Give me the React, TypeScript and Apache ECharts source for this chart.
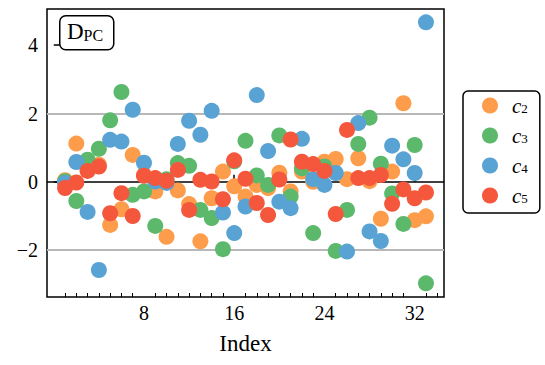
import React, { useEffect, useRef } from "react";
import * as echarts from "echarts";

const indices = [1, 2, 3, 4, 5, 6, 7, 8, 9, 10, 11, 12, 13, 14, 15, 16, 17, 18, 19, 20, 21, 22, 23, 24, 25, 26, 27, 28, 29, 30, 31, 32, 33];

const c2 = [0.05, 1.12, 0.35, 0.5, -1.26, -0.8, 0.79, 0.2, -0.28, -1.61, -0.25, -0.65, -1.74, -0.48, 0.3, -0.13, -0.43, -0.09, -0.18, 0.27, -0.28, 0.3, 0.0, 0.59, 0.67, 0.08, 0.69, 0.02, -1.08, 0.3, 2.3, -1.12, -1.01];
const c3 = [0.02, -0.56, 0.65, 0.97, 1.8, 2.63, -0.38, -0.28, -1.29, 0.08, 0.55, 0.47, -0.82, -1.06, -1.97, 0.6, 1.2, 0.19, -0.09, 1.36, -0.43, 0.4, -1.5, 0.45, -2.02, -0.82, 1.11, 1.88, 0.53, -0.34, -1.23, 1.08, -2.97];
const c4 = [-0.03, 0.58, -0.88, -2.58, 1.23, 1.18, 2.11, 0.56, 0.01, -0.03, 1.11, 1.79, 1.38, 2.08, -0.9, -1.5, -0.72, 2.54, 0.9, -0.58, -0.77, 1.26, 0.08, -0.09, 0.26, -2.04, 1.72, -1.45, -1.73, 1.06, 0.66, 0.26, 4.67];
const c5 = [-0.18, -0.02, 0.32, 0.45, -0.92, -0.33, -1.0, 0.18, 0.11, 0.03, 0.35, -0.82, 0.06, 0.01, -0.51, 0.63, 0.09, -0.62, -0.97, 0.07, 1.24, 0.59, 0.52, 0.32, -0.94, 1.52, 0.11, 0.11, 0.2, -0.64, -0.22, -0.48, -0.31];

const seriesNames = ["c2", "c3", "c4", "c5"];
const seriesValues = [c2, c3, c4, c5];
const seriesColors = ["#fd9c4b", "#5cb96b", "#58a3d3", "#f4573c"];

const xMajorTicks = [8, 16, 24, 32];
const xMinorTicks = [1, 2, 3, 4, 5, 6, 7, 9, 10, 11, 12, 13, 14, 15, 17, 18, 19, 20, 21, 22, 23, 25, 26, 27, 28, 29, 30, 31, 33, 34];
const yTicks = [-2, 0, 2, 4];
const gridLinesY = [-2, 2];

const FONT = "'Liberation Serif', 'DejaVu Serif', serif";

export default function App() {
  const ref = useRef<HTMLDivElement>(null);

  useEffect(() => {
    if (!ref.current) return;
    const chart = echarts.init(ref.current, undefined, { renderer: "svg" });

    const scatterSeries = seriesNames.map((name, k) => ({
      name,
      type: "scatter",
      xAxisIndex: 0,
      yAxisIndex: 0,
      symbol: "circle",
      symbolSize: 16,
      z: 3 + k,
      itemStyle: { color: seriesColors[k], opacity: 1 },
      data: indices.map((x, i) => [x, seriesValues[k][i]]),
    }));

    const option: any = {
      animation: false,
      grid: {
        left: 47,
        top: 9,
        right: 101,
        bottom: 68,
        show: true,
        borderColor: "#000",
        borderWidth: 1.5,
        backgroundColor: "transparent",
      },
      xAxis: [
        {
          type: "value",
          position: "bottom",
          min: -0.6,
          max: 34.6,
          axisLine: { show: false },
          splitLine: { show: false },
          axisTick: {
            show: true,
            inside: true,
            length: 7,
            customValues: xMajorTicks,
            lineStyle: { color: "#000", width: 1.5 },
          },
          axisLabel: {
            show: true,
            customValues: xMajorTicks,
            margin: 6,
            color: "#000",
            fontFamily: FONT,
            fontSize: 20,
          },
          name: "Index",
          nameLocation: "middle",
          nameGap: 35,
          nameTextStyle: { color: "#000", fontFamily: FONT, fontSize: 23 },
        },
        {
          type: "value",
          position: "bottom",
          min: -0.6,
          max: 34.6,
          axisLine: { show: false },
          splitLine: { show: false },
          axisTick: {
            show: true,
            inside: true,
            length: 4,
            customValues: xMinorTicks,
            lineStyle: { color: "#000", width: 1 },
          },
          axisLabel: { show: false },
        },
      ],
      yAxis: [
        {
          type: "value",
          min: -3.37,
          max: 5.06,
          axisLine: { show: false },
          splitLine: { show: false },
          axisTick: {
            show: true,
            inside: true,
            length: 7,
            customValues: yTicks,
            lineStyle: { color: "#000", width: 1.5 },
          },
          axisLabel: {
            show: true,
            customValues: yTicks,
            margin: 9,
            color: "#000",
            fontFamily: FONT,
            fontSize: 20,
            formatter: (v: number) => (v < 0 ? "\u2212" + Math.abs(v) : String(v)),
          },
        },
      ],
      legend: {
        orient: "vertical",
        left: 463,
        top: 91,
        data: seriesNames,
        icon: "circle",
        itemWidth: 34,
        itemHeight: 16,
        itemGap: 9,
        padding: [4, 12, 7, 19],
        borderColor: "#000",
        borderWidth: 1.5,
        borderRadius: 5,
        backgroundColor: "#fff",
        selectedMode: false,
        formatter: (name: string) => `{c|c}{s|${name.slice(1)}}`,
        textStyle: {
          color: "#000",
          fontFamily: FONT,
          rich: {
            c: { fontFamily: FONT, fontStyle: "italic", fontSize: 21, lineHeight: 18, color: "#000" },
            s: { fontFamily: FONT, fontSize: 13, lineHeight: 6, verticalAlign: "bottom", color: "#000" },
          },
        },
      },
      graphic: [
        {
          type: "rect",
          left: 59,
          top: 15,
          shape: { width: 54, height: 34, r: 6 },
          style: { fill: "#fff", stroke: "#000", lineWidth: 1.5 },
          z: 100,
        },
        {
          type: "text",
          left: 67,
          top: 20,
          z: 101,
          style: {
            text: "{d|D}{p|PC}",
            rich: {
              d: { fontFamily: FONT, fontSize: 23, lineHeight: 24, fill: "#000" },
              p: { fontFamily: FONT, fontSize: 16, lineHeight: 16, verticalAlign: "bottom", fill: "#000" },
            },
          },
        },
      ],
      series: [
        {
          name: "__ref",
          type: "scatter",
          data: [],
          z: 1,
          silent: true,
          markLine: {
            silent: true,
            z: 1,
            symbol: "none",
            animation: false,
            label: { show: false },
            data: [
              ...gridLinesY.map((v) => ({ yAxis: v, lineStyle: { color: "#b8b8b8", width: 2, type: "solid" } })),
              { yAxis: 0, lineStyle: { color: "#000", width: 1.6, type: "solid" } },
            ],
          },
        },
        ...scatterSeries,
      ],
    };

    chart.setOption(option);
    return () => chart.dispose();
  }, []);

  return (
    <div
      ref={ref}
      style={{ position: "absolute", left: 0, top: 0, width: 545, height: 365, background: "#fff" }}
    />
  );
}
